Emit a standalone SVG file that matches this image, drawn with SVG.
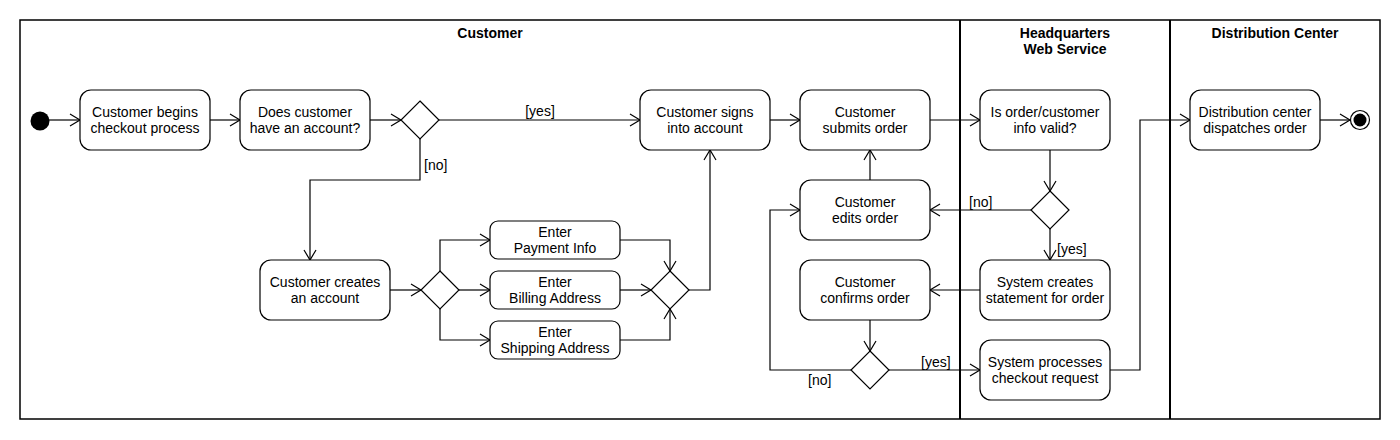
<svg xmlns="http://www.w3.org/2000/svg" width="1400" height="440" viewBox="0 0 1400 440">
<style>
.act{fill:#fff;stroke:#000;stroke-width:1.2}
.dec{fill:#fff;stroke:#000;stroke-width:1.2}
.t{font-family:"Liberation Sans",Arial,sans-serif;font-size:14px;fill:#000;text-anchor:middle}
.lbl{font-family:"Liberation Sans",Arial,sans-serif;font-size:14px;fill:#000}
.title{font-family:"Liberation Sans",Arial,sans-serif;font-size:14px;font-weight:bold;fill:#000;text-anchor:middle}
.c{fill:none;stroke:#000;stroke-width:1.2;marker-end:url(#arr)}
.lane{stroke:#000;stroke-width:2;fill:none}
</style>
<defs>
<marker id="arr" markerUnits="userSpaceOnUse" markerWidth="14" markerHeight="16" refX="11" refY="7" orient="auto">
<path d="M1,1 L11,7 L1,13" fill="none" stroke="#000" stroke-width="1.2"/>
</marker>
</defs>
<rect width="1400" height="440" fill="#fff"/>
<g id="swimlanes">
<rect x="20" y="20" width="1360" height="399" fill="none" stroke="#000" stroke-width="1.5"/>
<line class="lane" x1="960" y1="20" x2="960" y2="419"/>
<line class="lane" x1="1170" y1="20" x2="1170" y2="419"/>
<text class="title" x="490" y="38">Customer</text>
<text class="title" x="1065" y="38">Headquarters</text>
<text class="title" x="1065" y="54">Web Service</text>
<text class="title" x="1275" y="38">Distribution Center</text>
</g>
<g id="connectors">
<polyline class="c" points="49,120 80,120"/>
<polyline class="c" points="210,120 240,120"/>
<polyline class="c" points="370,120 401,120"/>
<polyline class="c" points="439,120 640,120"/>
<polyline class="c" points="420,139 420,180 310,180 310,260"/>
<polyline class="c" points="390,290 421,290"/>
<polyline class="c" points="440,271 440,240 490,240"/>
<polyline class="c" points="459,290 490,290"/>
<polyline class="c" points="440,309 440,340 490,340"/>
<polyline class="c" points="620,240 670,240 670,271"/>
<polyline class="c" points="620,290 651,290"/>
<polyline class="c" points="620,340 670,340 670,309"/>
<polyline class="c" points="689,290 710,290 710,150"/>
<polyline class="c" points="770,120 800,120"/>
<polyline class="c" points="930,120 980,120"/>
<polyline class="c" points="1050,150 1050,191"/>
<polyline class="c" points="1031,210 930,210"/>
<polyline class="c" points="1050,229 1050,260"/>
<polyline class="c" points="980,290 930,290"/>
<polyline class="c" points="870,180 870,150"/>
<polyline class="c" points="870,320 870,351"/>
<polyline class="c" points="851,370 770,370 770,210 800,210"/>
<polyline class="c" points="889,370 980,370"/>
<polyline class="c" points="1110,370 1140,370 1140,120 1190,120"/>
<polyline class="c" points="1320,120 1350,120"/>
<text class="lbl" x="540" y="116" text-anchor="middle">[yes]</text>
<text class="lbl" x="424" y="170">[no]</text>
<text class="lbl" x="969" y="207">[no]</text>
<text class="lbl" x="1057" y="254">[yes]</text>
<text class="lbl" x="808" y="385">[no]</text>
<text class="lbl" x="921" y="367">[yes]</text>
</g>
<g id="start"><circle cx="40" cy="121" r="9.5" fill="#000"/></g>
<g id="begin"><rect class="act" x="80" y="90" width="130" height="60" rx="11"/><text class="t" x="145" y="117">Customer begins</text><text class="t" x="145" y="133">checkout process</text></g>
<g id="hasAccount"><rect class="act" x="240" y="90" width="130" height="60" rx="11"/><text class="t" x="305" y="117">Does customer</text><text class="t" x="305" y="133">have an account?</text></g>
<g id="decAccount"><polygon class="dec" points="420,101 439,120 420,139 401,120"/></g>
<g id="signIn"><rect class="act" x="640" y="90" width="130" height="60" rx="11"/><text class="t" x="705" y="117">Customer signs</text><text class="t" x="705" y="133">into account</text></g>
<g id="submit"><rect class="act" x="800" y="90" width="130" height="60" rx="11"/><text class="t" x="865" y="117">Customer</text><text class="t" x="865" y="133">submits order</text></g>
<g id="valid"><rect class="act" x="980" y="90" width="130" height="60" rx="11"/><text class="t" x="1045" y="117">Is order/customer</text><text class="t" x="1045" y="133">info valid?</text></g>
<g id="dispatch"><rect class="act" x="1190" y="90" width="130" height="60" rx="11"/><text class="t" x="1255" y="117">Distribution center</text><text class="t" x="1255" y="133">dispatches order</text></g>
<g id="end"><circle cx="1360" cy="120" r="9.5" fill="#fff" stroke="#000" stroke-width="1.2"/><circle cx="1360" cy="120" r="6.5" fill="#000"/></g>
<g id="createAccount"><rect class="act" x="260" y="260" width="130" height="60" rx="11"/><text class="t" x="325" y="287">Customer creates</text><text class="t" x="325" y="303">an account</text></g>
<g id="fork"><polygon class="dec" points="440,271 459,290 440,309 421,290"/></g>
<g id="payment"><rect class="act" x="490" y="221" width="130" height="38" rx="8"/><text class="t" x="555" y="237">Enter</text><text class="t" x="555" y="253">Payment Info</text></g>
<g id="billing"><rect class="act" x="490" y="271" width="130" height="38" rx="8"/><text class="t" x="555" y="287">Enter</text><text class="t" x="555" y="303">Billing Address</text></g>
<g id="shipping"><rect class="act" x="490" y="321" width="130" height="38" rx="8"/><text class="t" x="555" y="337">Enter</text><text class="t" x="555" y="353">Shipping Address</text></g>
<g id="join"><polygon class="dec" points="670,271 689,290 670,309 651,290"/></g>
<g id="edits"><rect class="act" x="800" y="180" width="130" height="60" rx="11"/><text class="t" x="865" y="207">Customer</text><text class="t" x="865" y="223">edits order</text></g>
<g id="decValid"><polygon class="dec" points="1050,191 1069,210 1050,229 1031,210"/></g>
<g id="confirm"><rect class="act" x="800" y="260" width="130" height="60" rx="11"/><text class="t" x="865" y="287">Customer</text><text class="t" x="865" y="303">confirms order</text></g>
<g id="statement"><rect class="act" x="980" y="260" width="130" height="60" rx="11"/><text class="t" x="1045" y="287">System creates</text><text class="t" x="1045" y="303">statement for order</text></g>
<g id="decConfirm"><polygon class="dec" points="870,351 889,370 870,389 851,370"/></g>
<g id="process"><rect class="act" x="980" y="340" width="130" height="60" rx="11"/><text class="t" x="1045" y="367">System processes</text><text class="t" x="1045" y="383">checkout request</text></g>
</svg>
